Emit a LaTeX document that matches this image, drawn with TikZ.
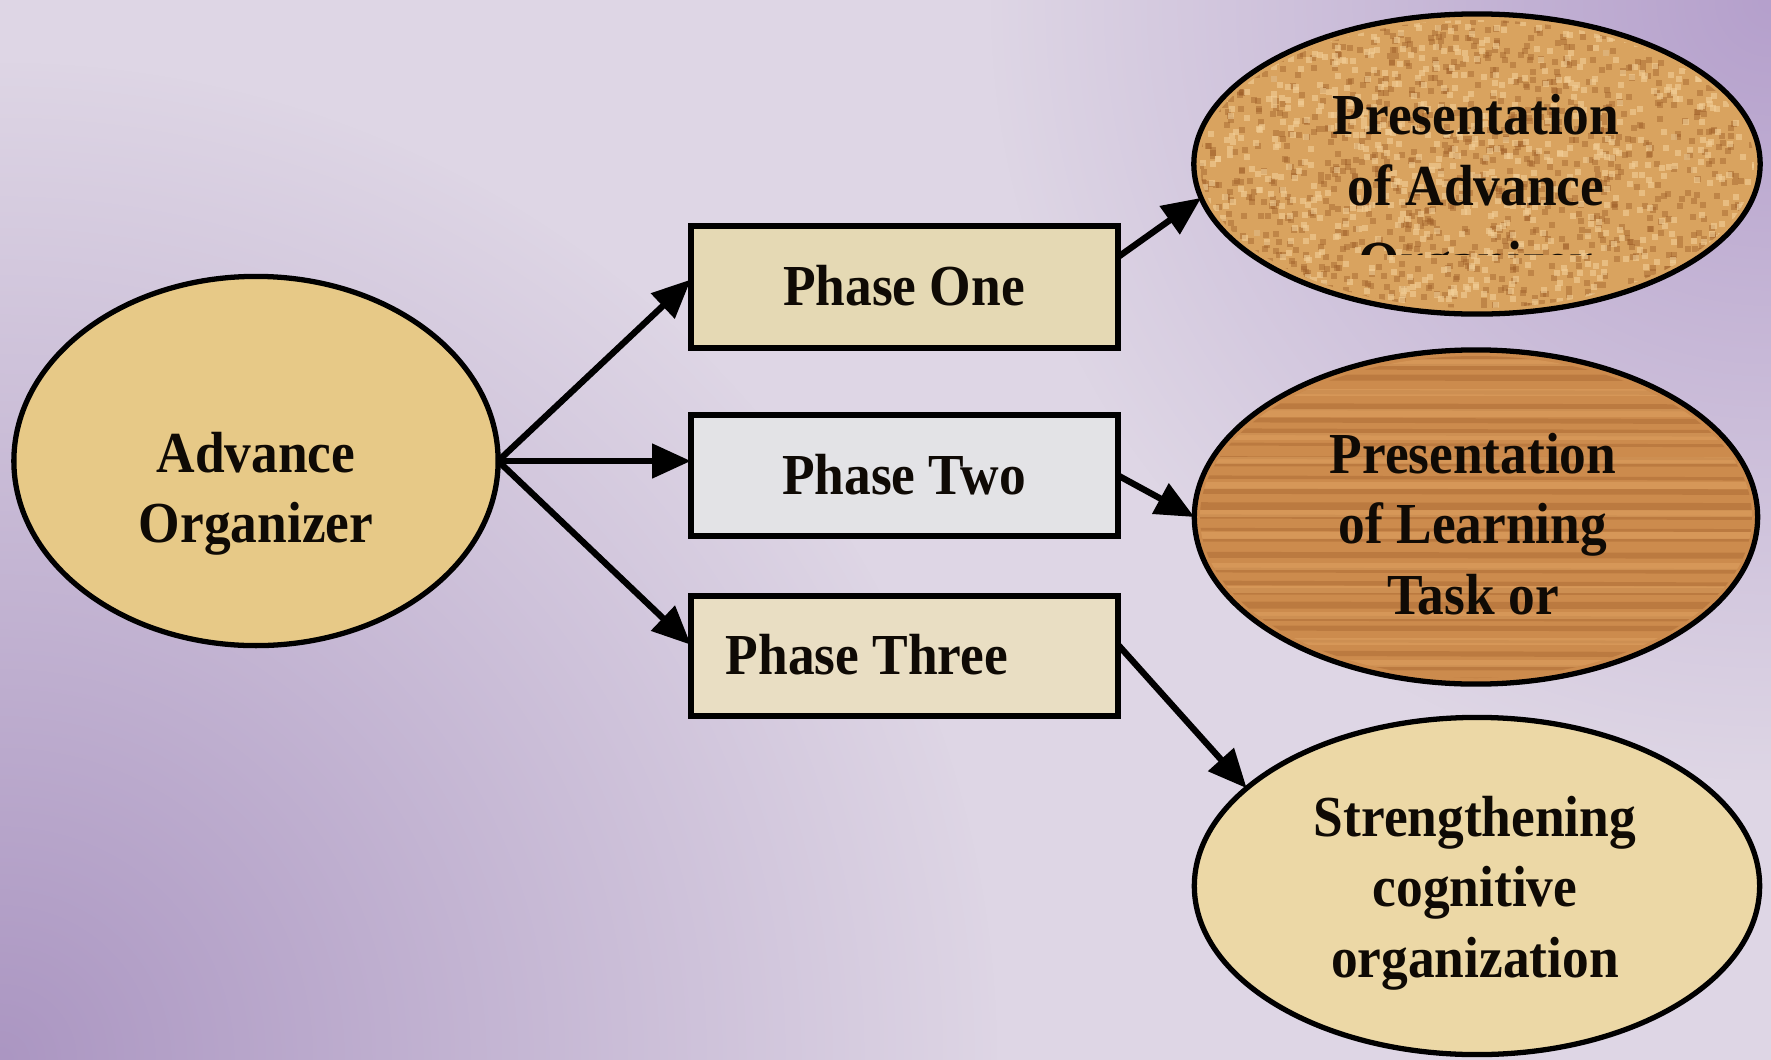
\documentclass[tikz,border=0pt]{standalone}
\usepackage{fontspec}
\setmainfont[FakeStretch=0.92]{Liberation Serif}
\usetikzlibrary{shapes.geometric,arrows.meta,fadings}
\definecolor{bgL}{HTML}{DED6E5}
\definecolor{bgP}{HTML}{AB96C2}
\definecolor{bgQ}{HTML}{B5A0CC}
\definecolor{aoC}{HTML}{E7C987}
\definecolor{p1C}{HTML}{E5D9B4}
\definecolor{p2C}{HTML}{E3E3E6}
\definecolor{p3C}{HTML}{E9DEC3}
\definecolor{e1C}{HTML}{D9A35F}
\definecolor{e2C}{HTML}{CC8B4D}
\definecolor{e3C}{HTML}{ECD8A6}
\definecolor{speckD}{HTML}{9A5A25}
\definecolor{speckL}{HTML}{F2CF98}
\definecolor{grainD}{HTML}{9E5C28}
\definecolor{grainL}{HTML}{E0A464}
\tikzfading[name=cornerfade, inner color=transparent!0, outer color=transparent!100]
\begin{document}
\begin{tikzpicture}[x=0.01cm, y=-0.01cm,
  shapebox/.style={draw=black, line width=1.5pt, inner sep=0pt, outer sep=0pt},
  ovalbox/.style={shapebox, ellipse},
  rectbox/.style={shapebox, rectangle, minimum width=4.27cm},
  lbl/.style={font=\fontsize{16.5}{20}\selectfont\bfseries, align=center, inner sep=0pt, text=black!92!brown},
  conn/.style={line width=1.8pt, -{Triangle[length=11pt,width=9.5pt]}}
]
\useasboundingbox (0,0) rectangle (1771,1060);
\fill[bgL] (0,0) rectangle (1771,1060);
\begin{scope}
  \clip (0,0) rectangle (1771,1060);
  \fill[bgP, path fading=cornerfade] (0,1060) circle[radius=1000];
  \fill[bgQ, path fading=cornerfade] (1771,0) circle[radius=780];
\end{scope}

\node[ovalbox, fill=aoC, minimum width=4.84cm, minimum height=3.69cm] (ao) at (256,461) {};
\node[rectbox, fill=p1C, minimum height=1.22cm] (p1) at (904.5,287) {};
\node[rectbox, fill=p2C, minimum height=1.21cm] (p2) at (904.5,475.5) {};
\node[rectbox, fill=p3C, minimum height=1.20cm] (p3) at (904.5,656) {};
\node[ovalbox, fill=e1C, minimum width=5.66cm, minimum height=3.00cm] (e1) at (1477,164) {};
\node[ovalbox, fill=e2C, minimum width=5.63cm, minimum height=3.34cm] (e2) at (1476,517) {};
\node[ovalbox, fill=e3C, minimum width=5.65cm, minimum height=3.37cm] (e3) at (1477,886) {};

% speckled sand texture
\pgfmathsetseed{7}
\begin{scope}
  \clip (e1.center) ellipse [x radius=277, y radius=144];
  \foreach \i in {1,...,1100}{
    \pgfmathsetmacro{\xx}{1194+566*rnd}
    \pgfmathsetmacro{\yy}{14+300*rnd}
    \fill[speckD, opacity=0.4] (\xx,\yy) rectangle ++(6,6);
  }
  \foreach \i in {1,...,900}{
    \pgfmathsetmacro{\xx}{1194+566*rnd}
    \pgfmathsetmacro{\yy}{14+300*rnd}
    \fill[speckL, opacity=0.6] (\xx,\yy) rectangle ++(6,6);
  }
\end{scope}
% wood grain texture
\begin{scope}
  \clip (e2.center) ellipse [x radius=276, y radius=161];
  \foreach \i in {0,...,26}{
    \pgfmathsetmacro{\yy}{352+12.5*\i+6*rnd}
    \pgfmathsetmacro{\ww}{0.6+1.6*rnd}
    \draw[grainD, opacity=0.35, line width=\ww pt] (1190,\yy) -- (1765,\yy+2*rnd);
  }
  \foreach \i in {0,...,12}{
    \pgfmathsetmacro{\yy}{360+25*\i+8*rnd}
    \draw[grainL, opacity=0.5, line width=2pt] (1190,\yy) -- (1765,\yy);
  }
\end{scope}

\node[lbl] (aot) at (256,494) {Advance\\Organizer};
\node[lbl] (p1t) at (904,286) {Phase One};
\node[lbl] (p2t) at (904,475) {Phase Two};
\node[lbl] (p3t) at (867,655) {Phase Three};
\node[lbl] (e1t) at (1476,150) {Presentation\\of Advance};
\begin{scope}
  \clip (1250,225) rectangle (1700,254);
  \node[lbl, anchor=base] (e1c) at (1476,281) {Organizer};
\end{scope}
\node[lbl] (e2t) at (1473,524) {Presentation\\of Learning\\Task or};
\node[lbl] (e3t) at (1475,893) {Strengthening\\cognitive\\organization};

\draw[conn] (ao.east) -- (p1.178);
\draw[conn] (ao.east) -- (ao.east -| p2.west);
\draw[conn] (ao.east) -- (p3.177);
\draw[conn] (p1.8) -- (e1.187);
\draw[conn] (p2.east) -- (e2.west);
\draw[conn] (p3.3) -- (e3.157);
\end{tikzpicture}
\end{document}
